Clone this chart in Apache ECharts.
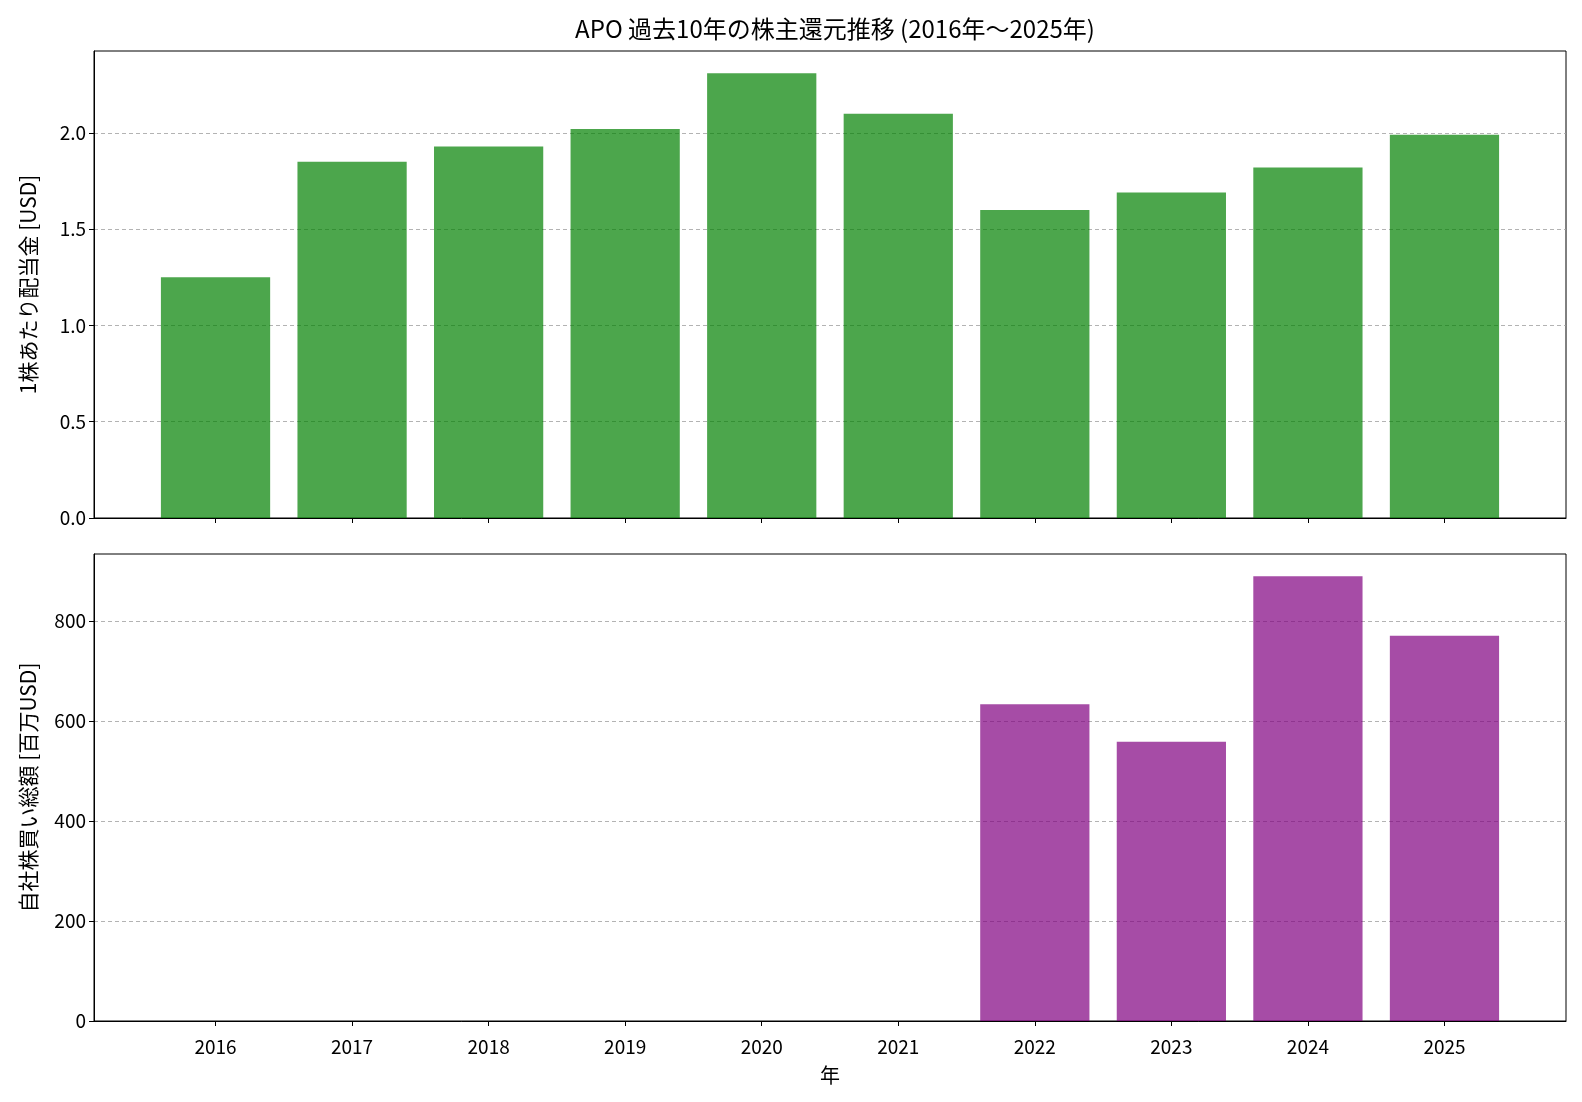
<!DOCTYPE html>
<html>
<head>
<meta charset="utf-8">
<script src="https://cdn.jsdelivr.net/npm/echarts@6/dist/echarts.min.js"></script>
<style>
  html, body { margin: 0; padding: 0; background: #fff; }
  #chart { width: 1582px; height: 1102px; }
</style>
</head>
<body>
<div id="chart"></div>
<script>
// chart data
const years = [2016, 2017, 2018, 2019, 2020, 2021, 2022, 2023, 2024, 2025];
const dividends = [1.25, 1.85, 1.93, 2.02, 2.31, 2.1, 1.6, 1.69, 1.82, 1.99];
const buybacks = [0, 0, 0, 0, 0, 0, 633, 558, 889, 770];
const dividendTicks = [0, 0.5, 1.0, 1.5, 2.0];
const buybackTicks = [0, 200, 400, 600, 800];

const FONT = "'Noto Sans CJK JP', sans-serif";
const GREEN = "rgba(0,128,0,0.7)";
const PURPLE = "rgba(128,0,128,0.7)";

const gridLeft = 94;
const gridWidth = 1472;
// matplotlib-like x range: bars of width 0.8 plus 5% margins
const xPad = 0.4 + 0.05 * (years.length - 1 + 0.8);
const xLo = years[0] - xPad;
const xHi = years[years.length - 1] + xPad;
const barPx = gridWidth / (xHi - xLo) * 0.8;

const chart = echarts.init(document.getElementById("chart"));

function xAxis(idx, showLabels) {
  return {
    type: "value",
    gridIndex: idx,
    min: xLo,
    max: xHi,
    name: showLabels ? "年" : "",
    nameLocation: "middle",
    nameGap: 44,
    nameTextStyle: { fontFamily: FONT, fontSize: 20, color: "#000" },
    axisLine: { show: true, onZero: false, lineStyle: { color: "#000", width: 1 } },
    axisTick: { show: true, inside: false, length: 5, customValues: years, lineStyle: { color: "#000" } },
    axisLabel: {
      show: showLabels,
      customValues: years,
      margin: 16,
      fontFamily: FONT,
      fontSize: 19,
      color: "#000",
      formatter: (v) => String(Math.round(v)),
    },
    splitLine: { show: false },
  };
}

function yAxis(idx, name, max, ticks, fmt) {
  return {
    type: "value",
    gridIndex: idx,
    min: 0,
    max: max,
    name: name,
    nameLocation: "middle",
    nameGap: 55,
    nameRotate: 90,
    nameTextStyle: { fontFamily: FONT, fontSize: 21, color: "#000" },
    axisLine: { show: true, lineStyle: { color: "#000", width: 1 } },
    axisTick: { show: true, inside: false, length: 5, customValues: ticks, lineStyle: { color: "#000" } },
    axisLabel: {
      customValues: ticks,
      margin: 8,
      fontFamily: FONT,
      fontSize: 19,
      color: "#000",
      formatter: fmt,
    },
    splitLine: {
      show: true,
      lineStyle: { color: "rgba(160,160,160,0.8)", type: [4, 3], width: 1 },
    },
  };
}

chart.setOption({
  animation: false,
  backgroundColor: "#fff",
  title: {
    text: "APO 過去10年の株主還元推移 (2016年〜2025年)",
    left: gridLeft + gridWidth / 2,
    textAlign: "center",
    top: 12,
    textStyle: { fontFamily: FONT, fontSize: 24, fontWeight: "normal", color: "#000" },
  },
  grid: [
    { left: gridLeft, width: gridWidth, top: 51, height: 467, show: true, borderColor: "#000", borderWidth: 1, containLabel: false },
    { left: gridLeft, width: gridWidth, top: 554, height: 467, show: true, borderColor: "#000", borderWidth: 1, containLabel: false },
  ],
  xAxis: [xAxis(0, false), xAxis(1, true)],
  yAxis: [
    yAxis(0, "1株あたり配当金 [USD]", Math.max(...dividends) * 1.05, dividendTicks, (v) => v.toFixed(1)),
    yAxis(1, "自社株買い総額 [百万USD]", Math.max(...buybacks) * 1.05, buybackTicks, (v) => String(Math.round(v))),
  ],
  series: [
    {
      type: "bar",
      xAxisIndex: 0,
      yAxisIndex: 0,
      barWidth: barPx,
      itemStyle: { color: GREEN },
      data: years.map((y, i) => [y, dividends[i]]),
    },
    {
      type: "bar",
      xAxisIndex: 1,
      yAxisIndex: 1,
      barWidth: barPx,
      itemStyle: { color: PURPLE },
      data: years.map((y, i) => [y, buybacks[i]]),
    },
  ],
});
</script>
</body>
</html>
